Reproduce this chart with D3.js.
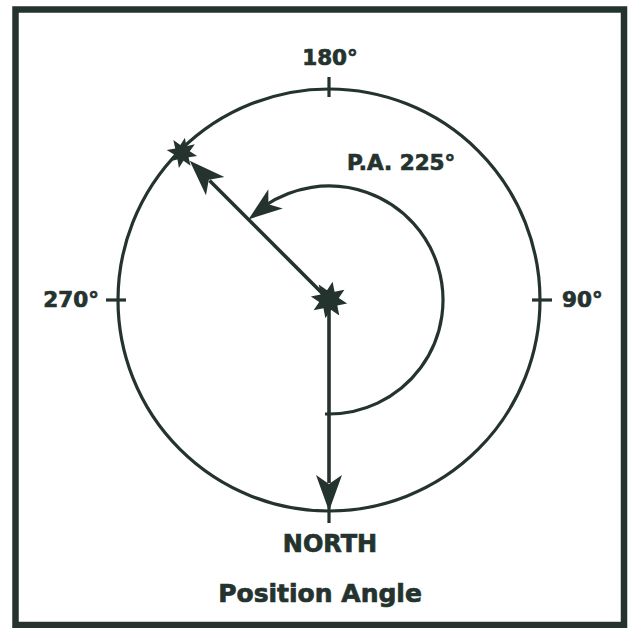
<!DOCTYPE html>
<html>
<head>
<meta charset="utf-8">
<script src="https://cdn.jsdelivr.net/npm/d3@7"></script>
<style>
  body { margin: 0; background: #fff; }
  text { font-family: "DejaVu Sans", sans-serif; font-weight: bold; fill: #25332f;
         stroke: #25332f; stroke-width: 0.7px; }
</style>
</head>
<body>
<svg id="chart" width="631" height="628"></svg>
<script>
// data
var tickAngles = [0, 90, 180, 270];
var tickLabels = ["NORTH", "90°", "180°", "270°"];
var positionAngle = 225;
var paLabel = "P.A. 225°";
var title = "Position Angle";

var ink = "#25332f";
var width = 631, height = 628;
var cx = 329, cy = 300;
var R = 211, rArc = 114;

var svg = d3.select("#chart");

// radius scale: 0..1 -> pixels
var rad = d3.scaleLinear().domain([0, 1]).range([0, R]);
// position angle (deg) -> radians; north points down, east to the right
var ang = d3.scaleLinear().domain([0, 360]).range([0, 2 * Math.PI]);

function pt(deg, r) {
  var a = ang(deg);
  return [cx + r * Math.sin(a), cy + r * Math.cos(a)];
}

// frame
svg.append("rect")
  .attr("x", 15.5).attr("y", 9.5)
  .attr("width", 608.5).attr("height", 615.5)
  .attr("fill", "none").attr("stroke", ink).attr("stroke-width", 6.5);

// outer circle
svg.append("circle")
  .attr("cx", cx).attr("cy", cy).attr("r", rad(1))
  .attr("fill", "none").attr("stroke", ink).attr("stroke-width", 3.2);

// ticks
svg.selectAll(".tick")
  .data(tickAngles)
  .enter().append("line")
  .attr("class", "tick")
  .attr("x1", d => pt(d, R - 8)[0]).attr("y1", d => pt(d, R - 8)[1])
  .attr("x2", d => pt(d, R + 12)[0]).attr("y2", d => pt(d, R + 12)[1])
  .attr("stroke", ink).attr("stroke-width", 3.2);

// tick labels
svg.selectAll(".lab")
  .data(tickAngles)
  .enter().append("text")
  .attr("class", "lab")
  .attr("font-size", (d, i) => i == 0 ? 24 : 21.5)
  .attr("text-anchor", d => d == 90 ? "start" : d == 270 ? "end" : "middle")
  .attr("x", d => d == 90 ? cx + R + 22 : d == 270 ? cx - R - 19 : cx + 1)
  .attr("y", d => d == 0 ? cy + R + 41 : d == 180 ? cy - R - 24 : cy + 7)
  .text((d, i) => tickLabels[i]);

// arrowhead (stealth style) with tip at p, pointing along unit dir
function head(p, dir, len, half, notch) {
  var ux = dir[0], uy = dir[1];
  var nx = -uy, ny = ux;
  var bx = p[0] - ux * len, by = p[1] - uy * len;
  var mx = p[0] - ux * (len - notch), my = p[1] - uy * (len - notch);
  return "M" + p[0] + "," + p[1] +
    "L" + (bx + nx * half) + "," + (by + ny * half) +
    "L" + mx + "," + my +
    "L" + (bx - nx * half) + "," + (by - ny * half) + "Z";
}

function unit(a, b) {
  var dx = b[0] - a[0], dy = b[1] - a[1], l = Math.hypot(dx, dy);
  return [dx / l, dy / l];
}

// radial arrows: to north and to the star
[0, positionAngle].forEach(function (deg) {
  var tip = pt(deg, deg == 0 ? R : R - 14);
  var end = pt(deg, (deg == 0 ? R : R - 14) - 28);
  svg.append("line")
    .attr("x1", cx).attr("y1", cy)
    .attr("x2", end[0]).attr("y2", end[1])
    .attr("stroke", ink).attr("stroke-width", 3.6);
  svg.append("path")
    .attr("d", head(tip, unit([cx, cy], tip), 36, 13, 9))
    .attr("fill", ink);
});

// inner arc from north to the position angle
var phi = d => Math.PI / 2 - ang(d);
var arcEnd = positionAngle - 11;
var p = d3.path();
p.moveTo(cx - 4, cy + rArc);
p.arc(cx, cy, rArc, phi(0), phi(arcEnd), true);
svg.append("path")
  .attr("d", p.toString())
  .attr("fill", "none").attr("stroke", ink).attr("stroke-width", 3.2);

var arcTip = pt(positionAngle, rArc);
var arcBack = pt(positionAngle - 16, rArc);
svg.append("path")
  .attr("d", head(arcTip, unit(arcBack, arcTip), 34, 12, 9))
  .attr("fill", ink);

// stars
function star(c, ro, ri, n) {
  var pts = d3.range(n * 2).map(function (i) {
    var a = Math.PI / n * i + Math.PI / (n * 2);
    var r = i % 2 == 0 ? ro : ri;
    return [c[0] + r * Math.cos(a), c[1] + r * Math.sin(a)];
  });
  return d3.line()(pts) + "Z";
}
svg.append("path").attr("d", star([cx, cy], 18.5, 10, 8)).attr("fill", ink);
svg.append("path").attr("d", star(pt(positionAngle, R - 3), 15.5, 8, 8)).attr("fill", ink);

// P.A. label
svg.append("text")
  .attr("x", 347).attr("y", 170)
  .attr("font-size", 21.5)
  .text(paLabel);

// title
svg.append("text")
  .attr("x", 320).attr("y", 602)
  .attr("text-anchor", "middle")
  .attr("font-size", 25)
  .text(title);
</script>
</body>
</html>
